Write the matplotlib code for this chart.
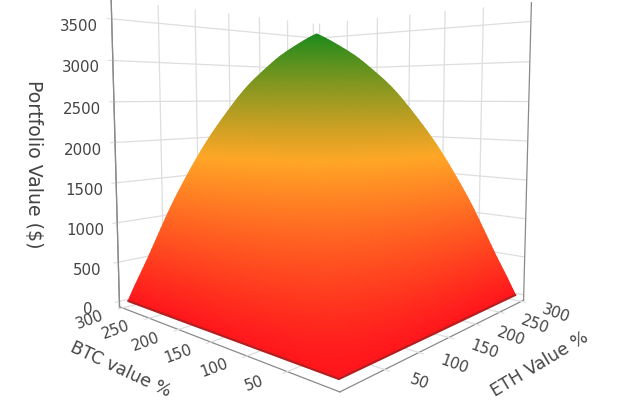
import numpy as np
import matplotlib

matplotlib.use("Agg")
import matplotlib.pyplot as plt
from matplotlib.colors import LinearSegmentedColormap
from matplotlib.tri import Triangulation, UniformTriRefiner
from mpl_toolkits.mplot3d import proj3d

# grid nodes of the surface (value %)
eth_nodes = [0, 10, 25, 50, 75, 100, 125, 150, 175, 200, 225, 250, 275, 300]
btc_nodes = [0, 10, 25, 50, 75, 100, 125, 150, 175, 200, 225, 250, 275, 300]

# portfolio value ($), one row per BTC node
portfolio = [
    [0, 0, 0, 0, 0, 0, 0, 0, 0, 0, 0, 0, 0, 0],
    [0, 11, 27, 55, 80, 101, 120, 137, 152, 164, 175, 184, 192, 199],
    [0, 27, 65, 132, 192, 245, 291, 332, 368, 397, 423, 445, 464, 481],
    [0, 55, 132, 269, 392, 499, 592, 676, 749, 808, 862, 906, 945, 979],
    [0, 80, 192, 392, 570, 726, 862, 983, 1089, 1175, 1253, 1317, 1374, 1424],
    [0, 101, 245, 499, 726, 926, 1099, 1253, 1389, 1498, 1598, 1680, 1752, 1816],
    [0, 120, 291, 592, 862, 1099, 1303, 1486, 1648, 1777, 1896, 1992, 2079, 2154],
    [0, 137, 332, 676, 983, 1253, 1486, 1695, 1879, 2026, 2161, 2272, 2370, 2456],
    [0, 152, 368, 749, 1089, 1389, 1648, 1879, 2083, 2247, 2396, 2519, 2628, 2723],
    [0, 164, 397, 808, 1175, 1498, 1777, 2026, 2247, 2423, 2585, 2717, 2834, 2937],
    [0, 175, 423, 862, 1253, 1598, 1896, 2161, 2396, 2585, 2757, 2898, 3023, 3133],
    [0, 184, 445, 906, 1317, 1680, 1992, 2272, 2519, 2717, 2898, 3046, 3178, 3293],
    [0, 192, 464, 945, 1374, 1752, 2079, 2370, 2628, 2834, 3023, 3178, 3315, 3435],
    [0, 199, 481, 979, 1424, 1816, 2154, 2456, 2723, 2937, 3133, 3293, 3435, 3560],
]

plane_ticks = [50, 100, 150, 200, 250, 300]
value_ticks = [0, 500, 1000, 1500, 2000, 2500, 3000, 3500]

TEXT = "#444444"
GRID = "#dedede"
XMIN, XMAX = -7, 306
ZMIN, ZMAX = -70, 3730
cmap = LinearSegmentedColormap.from_list(
    "rog", [(0, "#ff161c"), (0.49, "#ffa726"), (1, "#1b8a1b")], N=512
)

fig = plt.figure(figsize=(6.4, 4), dpi=100)
ax = fig.add_axes([69.5 / 640, -10.5 / 400, 497 / 640, 497 / 400], projection="3d")
ax.set_proj_type("persp", focal_length=0.25)
ax.view_init(elev=5, azim=-138)
ax.set_box_aspect((1, 1, 1.04), zoom=1)

ax.set_xlim(XMIN, XMAX, view_margin=0)
ax.set_ylim(XMIN, XMAX, view_margin=0)
ax.set_zlim(ZMIN, ZMAX, view_margin=0)
ax.set_xticks(plane_ticks)
ax.set_yticks(plane_ticks)
ax.set_zticks(value_ticks)
ax.set_xticklabels([])
ax.set_yticklabels([])

for axis in (ax.xaxis, ax.yaxis, ax.zaxis):
    axis.set_pane_color((1, 1, 1, 1))
    axis.pane.set_edgecolor((1, 1, 1, 0))
    axis.line.set_color("#8a8a8a")
    axis.line.set_linewidth(0.9)
    axis._axinfo["grid"]["color"] = GRID
    axis._axinfo["grid"]["linewidth"] = 0.9
ax.tick_params(axis="x", color=GRID)
ax.tick_params(axis="y", color=GRID)
ax.tick_params(axis="z", labelsize=10.8, labelcolor=TEXT, pad=6, color=GRID)

# second vertical edge on the far side
ax.plot([XMAX, XMAX], [XMIN, XMIN], [ZMIN, ZMAX], color="#8a8a8a", lw=0.9)
ax.plot([XMIN, XMIN], [XMAX, XMAX], [ZMIN, ZMAX], color="#8a8a8a", lw=0.9)

fig.canvas.draw()


def to_screen(xs, ys, zs):
    px, py, pz = proj3d.proj_transform(np.asarray(xs, float), np.asarray(ys, float), np.asarray(zs, float), ax.M)
    pts = ax.transData.transform(np.column_stack([px, py]))
    return pts[:, 0], 400 - pts[:, 1], pz


# smooth shading is only available in 2D, so project the grid and draw it on an overlay
eth_grid, btc_grid = np.meshgrid(eth_nodes, btc_nodes)
z_grid = np.array(portfolio, dtype=float)
tri = Triangulation(eth_grid.ravel(), btc_grid.ravel())
fine, fine_z = UniformTriRefiner(tri).refine_field(z_grid.ravel(), subdiv=3)
sx, sy, depth = to_screen(fine.x, fine.y, fine_z)
tris = fine.triangles[np.argsort(-depth[fine.triangles].mean(axis=1))]

over = fig.add_axes([0, 0, 1, 1], facecolor="none")
over.set_xlim(0, 640)
over.set_ylim(400, 0)
over.axis("off")
over.tripcolor(Triangulation(sx, sy, tris), fine_z, shading="gouraud", cmap=cmap, vmin=0, vmax=3560)

# darker rim where the surface leaves the floor
for edge_x, edge_y in (([0, 0], [0, 300]), ([0, 300], [0, 0])):
    ex, ey, _ = to_screen(edge_x, edge_y, [0, 0])
    over.plot(ex, ey, color="#b3201f", lw=1.6, solid_capstyle="round")

# floor tick labels, hung off the projected ticks
for val in plane_ticks:
    tx, ty, _ = to_screen([XMIN], [val], [ZMIN])
    over.text(tx[0] - 33, ty[0] + 12, str(val), rotation=20, rotation_mode="anchor",
              fontsize=10.8, color=TEXT, ha="center", va="center")
    tx, ty, _ = to_screen([val], [XMIN], [ZMIN])
    over.text(tx[0] + 35, ty[0] + 12, str(val), rotation=-20, rotation_mode="anchor",
              fontsize=10.8, color=TEXT, ha="center", va="center")

over.text(33, 164, "Portfolio Value ($)", rotation=-90, fontsize=13.6, color=TEXT, ha="center", va="center")
over.text(121, 370, "BTC value %", rotation=-25, fontsize=12.5, color=TEXT, ha="center", va="center")
over.text(540, 364, "ETH Value %", rotation=31, fontsize=12.5, color=TEXT, ha="center", va="center")

fig.savefig("out.png", dpi=100)
